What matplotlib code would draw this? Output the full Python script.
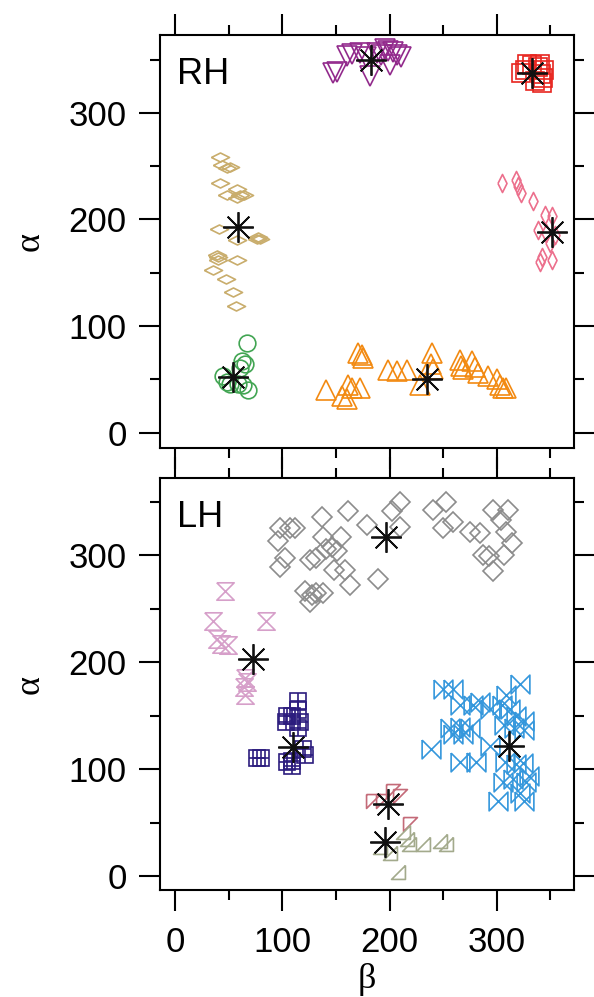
import numpy as np
import matplotlib.pyplot as plt
from matplotlib.ticker import MultipleLocator

# ---- RH panel data (beta, alpha) ----
rh_purple_b = [147, 151, 160, 165, 172, 178, 182, 188, 192, 196, 199, 200, 203, 207, 211]
rh_purple_a = [337, 338, 353, 355, 356, 352, 335, 356, 354, 360, 358, 345, 357, 354, 352]

rh_red_b = [323, 326, 328, 333, 336, 338, 340, 341, 342, 343, 344]
rh_red_a = [337, 340, 346, 345, 330, 343, 346, 336, 328, 333, 340]

rh_tan_b = [42, 43.5, 48, 51, 42, 57.5, 48, 60.6, 57.5, 64, 41, 58, 76, 79, 77.6,
            39, 40, 40, 58, 35, 47.5, 54, 57]
rh_tan_a = [259, 251, 248, 249, 234, 229, 223, 223, 220, 223, 191, 181, 182, 182, 184,
            167, 165, 162, 162, 153, 144, 132, 119]

rh_pink_b = [305, 318, 320, 323, 334, 345, 351, 338.6, 346, 354, 349.5, 341.7, 340, 351]
rh_pink_a = [234, 237, 231, 225, 217, 204, 203, 190, 187, 185.6, 178, 165, 160, 162]

rh_green_b = [67, 62, 65, 60.6, 45, 48, 51, 63.7, 68, 59]
rh_green_a = [84, 67, 64, 60.6, 53, 48, 46, 45, 40, 46]

rh_orange_b = [141, 156, 160, 161.6, 165, 172, 171, 174, 175.6, 199, 206.6, 216, 228, 240,
               239, 240.6, 265.6, 267, 268.6, 276.5, 279.6, 282.6, 292, 300, 303, 309, 306]
rh_orange_a = [40, 34, 32, 45, 42, 42, 75, 73, 70, 59, 58, 59, 45, 75,
               64, 60, 68, 63, 60, 67, 62, 56, 53, 50, 45, 42, 42]

rh_center_b = [183, 332.5, 59, 351, 54, 234.5]
rh_center_a = [350, 337, 193, 188, 52, 50]

# ---- LH panel data (beta, alpha) ----
lh_gray_b = [136.7, 161.6, 209.7, 202, 178.6, 209.7, 189.5, 98, 107, 112, 96, 102.5, 98,
             138, 155, 126, 131, 141, 146, 150.6, 158, 148, 163, 121, 128, 131, 138, 126,
             240.7, 253, 250, 259, 275, 284, 296.7, 310.6, 303.7, 309, 313.7, 287, 293,
             307, 296.7]
lh_gray_a = [336, 341, 350, 341, 328, 326, 278, 325, 325, 325, 313, 297, 289,
             317, 317, 295.5, 297, 306, 308, 304, 286, 286, 272, 266, 263, 265, 265, 256,
             342, 350, 325, 331, 322, 321, 342, 342, 333, 322, 311, 300, 299,
             300, 285]

lh_lilac_b = [46.6, 35.7, 84.8, 39, 49.7, 42.5, 65, 64, 65, 67]
lh_lilac_a = [266, 238, 238, 222, 216, 217, 185, 177, 169, 181]

lh_navy_b = [115, 115, 104, 109, 116.5, 103, 76, 80, 108.7, 104, 119.6, 121, 109, 115]
lh_navy_a = [164, 155, 150, 150, 144, 144, 110, 110, 103, 106.5, 119, 113, 108, 138]

lh_blue_b = [250, 259, 321.5, 309, 265.6, 278, 284, 293.6, 305, 312, 318, 325,
             256, 265.6, 275, 307, 316, 325, 239, 259, 268.6, 265.6, 281, 293.6,
             307.5, 318, 324, 306, 315, 327.6, 321.5, 301, 325, 330]
lh_blue_a = [175, 175, 180, 169, 160, 160, 163, 156.5, 160, 156, 150, 145,
             138, 139, 138, 141, 138, 137, 119, 133, 133, 106.5, 106.5, 122,
             106.5, 105, 106, 88, 91, 88, 78, 70.6, 70.6, 94]

lh_mauve_b = [185, 203.5, 209.7, 194, 219]
lh_mauve_a = [70.6, 80, 75, 70, 49]

lh_olive_b = [212.8, 216, 218, 231.4, 247, 253, 191, 200.7, 208]
lh_olive_a = [41, 35, 30, 30, 33, 30, 27, 22, 3.5]

lh_center_b = [196.6, 73, 110, 311.6, 198.8, 196]
lh_center_a = [316.5, 203, 120.6, 122, 67.5, 32]

# custom marker shapes
wide_diamond = [(-1, 0), (0, 0.5), (1, 0), (0, -0.5), (-1, 0)]
thin_diamond = [(-0.5, 0), (0, 1), (0.5, 0), (0, -1), (-0.5, 0)]
hourglass = [(-1, 1), (1, 1), (-1, -1), (1, -1), (-1, 1)]
bowtie = [(-1, 1), (-1, -1), (1, 1), (1, -1), (-1, 1)]
flag_tri = [(-1, 1), (1, 1), (-1, -1), (-1, 1)]
corner_tri = [(1, 1), (1, -1), (-1, -1), (1, 1)]

plt.rcParams['font.family'] = ['Liberation Sans', 'DejaVu Sans']

fig = plt.figure(figsize=(5.94, 9.97), dpi=100)
ax1 = fig.add_axes([0.2694, 0.5510, 0.6970, 0.4139])
ax2 = fig.add_axes([0.2694, 0.1073, 0.6970, 0.4132])


def pts(ax, b, a, marker, color, ms, mew=1.2):
    ax.plot(b, a, linestyle='none', marker=marker, ms=ms, mfc='none',
            mec=color, mew=mew)


def stars(ax, b, a):
    ax.plot(b, a, linestyle='none', marker=(8, 2, 0), ms=22, color='#111111',
            mew=1.3, zorder=5)


pts(ax1, rh_purple_b, rh_purple_a, 'v', '#922a8c', 14)
pts(ax1, rh_red_b, rh_red_a, 's', '#e8251f', 12.5)
pts(ax1, rh_tan_b, rh_tan_a, wide_diamond, '#c9ad6c', 13)
pts(ax1, rh_pink_b, rh_pink_a, thin_diamond, '#ec6f8c', 13)
pts(ax1, rh_green_b, rh_green_a, 'o', '#42a553', 12)
pts(ax1, rh_orange_b, rh_orange_a, '^', '#f28a12', 15)
stars(ax1, rh_center_b, rh_center_a)

pts(ax2, lh_gray_b, lh_gray_a, 'D', '#8c8c8c', 10.5)
pts(ax2, lh_lilac_b, lh_lilac_a, hourglass, '#d69fc9', 12.5)
pts(ax2, lh_navy_b, lh_navy_a, 's', '#2c1c7e', 11)
pts(ax2, lh_navy_b, lh_navy_a, '+', '#2c1c7e', 11)
pts(ax2, lh_blue_b, lh_blue_a, bowtie, '#3497dc', 13.5)
pts(ax2, lh_mauve_b, lh_mauve_a, flag_tri, '#c46a78', 10)
pts(ax2, lh_olive_b, lh_olive_a, corner_tri, '#a3aa8c', 10)
stars(ax2, lh_center_b, lh_center_a)

for ax, ylim, tag in [(ax1, (-14, 373), 'RH'), (ax2, (-13, 372), 'LH')]:
    ax.set_xlim(-14, 372)
    ax.set_ylim(*ylim)
    ax.xaxis.set_major_locator(MultipleLocator(100))
    ax.xaxis.set_minor_locator(MultipleLocator(50))
    ax.yaxis.set_major_locator(MultipleLocator(100))
    ax.yaxis.set_minor_locator(MultipleLocator(50))
    ax.tick_params(which='both', direction='out', top=True, right=True,
                   width=1.5, labelsize=25, pad=9)
    ax.tick_params(which='major', length=15)
    ax.tick_params(which='minor', length=7.5)
    for s in ax.spines.values():
        s.set_linewidth(1.5)
    ax.set_ylabel('α', family=['Liberation Serif', 'DejaVu Serif'], fontsize=26, labelpad=16)
    ax.text(0.04, 0.905, tag, transform=ax.transAxes, fontsize=26, va='center', ha='left')

ax1.tick_params(labelbottom=False)
ax2.tick_params(axis='x', pad=11)
ax2.set_xlabel('β', family=['Liberation Serif', 'DejaVu Serif'], fontsize=26, labelpad=3)

fig.savefig('out.png', dpi=100)
